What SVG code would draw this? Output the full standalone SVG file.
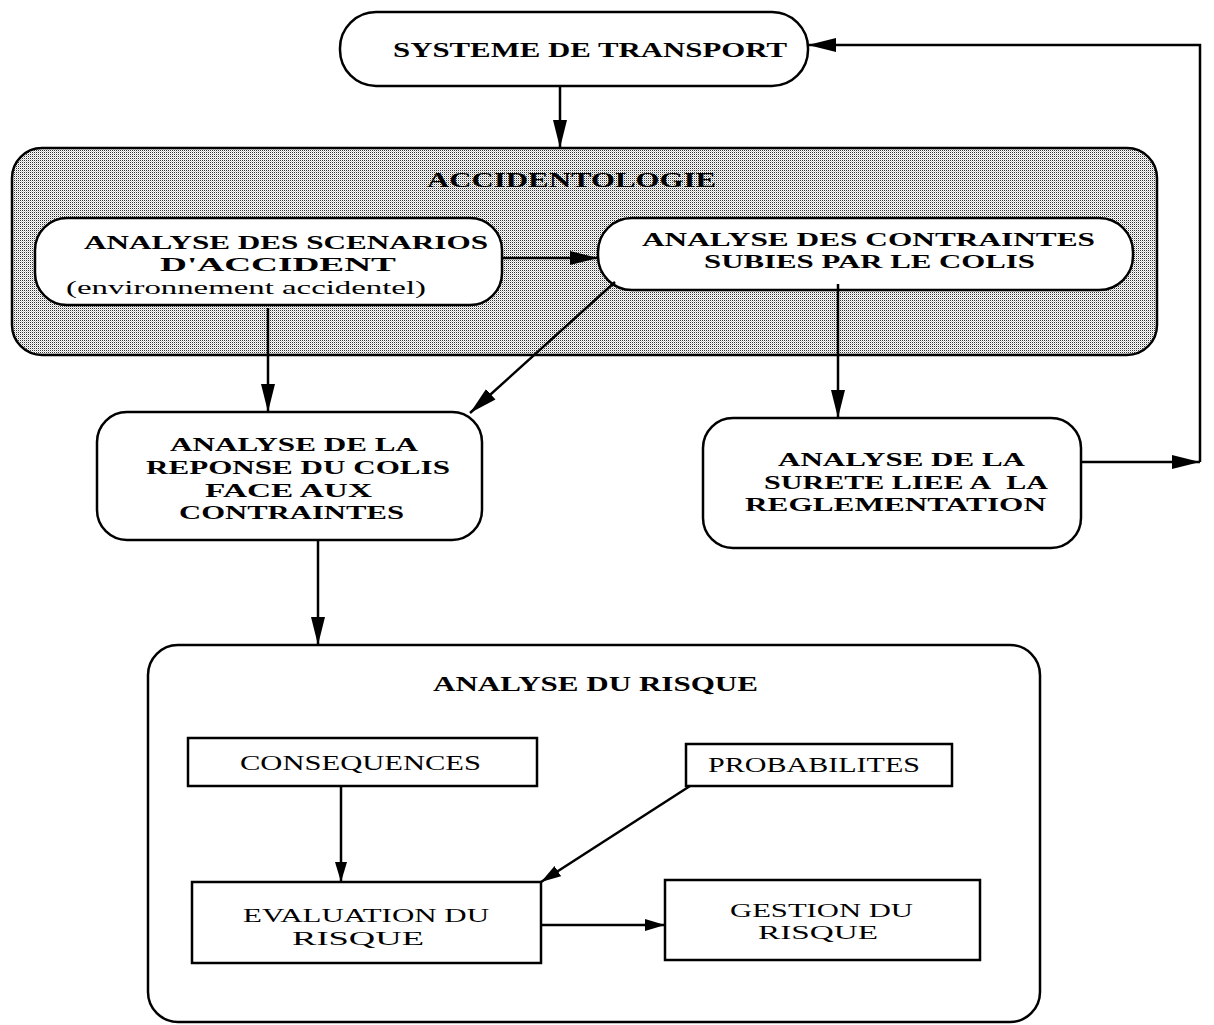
<svg xmlns="http://www.w3.org/2000/svg" width="1214" height="1025" viewBox="0 0 1214 1025">
<defs>
<pattern id="stip" width="2" height="2" patternUnits="userSpaceOnUse">
<rect width="2" height="2" fill="#ffffff"/>
<rect x="0" y="0" width="1" height="1" fill="#333333"/>
<rect x="1" y="1" width="1" height="1" fill="#c8c8c8"/>
</pattern>
<marker id="ah" markerUnits="userSpaceOnUse" markerWidth="30" markerHeight="16" refX="28" refY="8" orient="auto">
<path d="M0,1 L28,8 L0,15 z" fill="#000"/>
</marker>
<marker id="ahs" markerUnits="userSpaceOnUse" markerWidth="22" markerHeight="14" refX="20" refY="7" orient="auto">
<path d="M0,1 L20,7 L0,13 z" fill="#000"/>
</marker>
</defs>
<style>
.node{fill:#fff;stroke:#000;stroke-width:2.5}
.grp{fill:url(#stip);stroke:#000;stroke-width:2.5}
.box{fill:#fff;stroke:#000;stroke-width:2.5}
.conn{fill:none;stroke:#000;stroke-width:2.5}
.tb{font-family:"Liberation Serif","Times New Roman",serif;font-weight:bold;font-size:22px;fill:#000;text-anchor:start}
.tn{font-family:"Liberation Serif","Times New Roman",serif;font-weight:normal;font-size:22px;fill:#000;text-anchor:start}
.ml{font-size:19px}
</style>

<g id="transport">
<rect class="node" x="340" y="12" width="468" height="74" rx="36" ry="36"/>
<text class="tb" x="393" y="57" textLength="394" lengthAdjust="spacingAndGlyphs">SYSTEME DE TRANSPORT</text>
</g>

<g id="accidentologie">
<rect class="grp" x="12" y="148" width="1145" height="207" rx="30" ry="30"/>
<text class="tb" x="427" y="187" textLength="289" lengthAdjust="spacingAndGlyphs">ACCIDENTOLOGIE</text>
</g>

<g id="scenarios">
<rect class="node" x="35" y="218" width="467" height="87" rx="32" ry="32"/>
<text class="tb ml" x="84" y="249" textLength="404" lengthAdjust="spacingAndGlyphs">ANALYSE DES SCENARIOS</text>
<text class="tb ml" x="160" y="271" textLength="236" lengthAdjust="spacingAndGlyphs">D'ACCIDENT</text>
<text class="tn ml" x="66" y="294" textLength="360" lengthAdjust="spacingAndGlyphs">(environnement accidentel)</text>
</g>

<g id="contraintes">
<rect class="node" x="598" y="218" width="535" height="72" rx="34" ry="34"/>
<text class="tb ml" x="642" y="246" textLength="453" lengthAdjust="spacingAndGlyphs">ANALYSE DES CONTRAINTES</text>
<text class="tb ml" x="704" y="268" textLength="331" lengthAdjust="spacingAndGlyphs">SUBIES PAR LE COLIS</text>
</g>

<g id="reponse">
<rect class="node" x="97" y="412" width="385" height="128" rx="30" ry="30"/>
<text class="tb ml" x="170" y="451" textLength="248" lengthAdjust="spacingAndGlyphs">ANALYSE DE LA</text>
<text class="tb ml" x="146" y="474" textLength="304" lengthAdjust="spacingAndGlyphs">REPONSE DU COLIS</text>
<text class="tb ml" x="205" y="497" textLength="167" lengthAdjust="spacingAndGlyphs">FACE AUX</text>
<text class="tb ml" x="179" y="519" textLength="225" lengthAdjust="spacingAndGlyphs">CONTRAINTES</text>
</g>

<g id="surete">
<rect class="node" x="703" y="418" width="378" height="130" rx="30" ry="30"/>
<text class="tb ml" x="778" y="466" textLength="247" lengthAdjust="spacingAndGlyphs">ANALYSE DE LA</text>
<text class="tb ml" x="764" y="489" textLength="284" lengthAdjust="spacingAndGlyphs">SURETE LIEE A&#160; LA</text>
<text class="tb ml" x="745" y="511" textLength="301" lengthAdjust="spacingAndGlyphs">REGLEMENTATION</text>
</g>

<g id="risque">
<rect class="node" x="148" y="645" width="892" height="377" rx="30" ry="30"/>
<text class="tb" x="433" y="691" textLength="325" lengthAdjust="spacingAndGlyphs">ANALYSE DU RISQUE</text>
</g>

<g id="consequences">
<rect class="box" x="188" y="738" width="349" height="48"/>
<text class="tn" x="240" y="770" textLength="241" lengthAdjust="spacingAndGlyphs">CONSEQUENCES</text>
</g>

<g id="probabilites">
<rect class="box" x="686" y="744" width="266" height="42"/>
<text class="tn" x="708" y="772" textLength="212" lengthAdjust="spacingAndGlyphs">PROBABILITES</text>
</g>

<g id="evaluation">
<rect class="box" x="192" y="882" width="349" height="81"/>
<text class="tn ml" x="243" y="922" textLength="246" lengthAdjust="spacingAndGlyphs">EVALUATION DU</text>
<text class="tn ml" x="292" y="945" textLength="132" lengthAdjust="spacingAndGlyphs">RISQUE</text>
</g>

<g id="gestion">
<rect class="box" x="665" y="880" width="315" height="80"/>
<text class="tn ml" x="730" y="917" textLength="183" lengthAdjust="spacingAndGlyphs">GESTION DU</text>
<text class="tn ml" x="758" y="939" textLength="120" lengthAdjust="spacingAndGlyphs">RISQUE</text>
</g>

<g id="connectors">
<line class="conn" x1="560" y1="86" x2="560" y2="148" marker-end="url(#ah)"/>
<line class="conn" x1="502" y1="258" x2="598" y2="258" marker-end="url(#ah)"/>
<line class="conn" x1="268" y1="308" x2="268" y2="412" marker-end="url(#ah)"/>
<line class="conn" x1="615" y1="282" x2="470" y2="413" marker-end="url(#ah)"/>
<line class="conn" x1="838" y1="284" x2="838" y2="418" marker-end="url(#ah)"/>
<line class="conn" x1="1081" y1="462" x2="1200" y2="462" marker-end="url(#ah)"/>
<polyline class="conn" points="1200,462 1200,45 808,45" marker-end="url(#ah)"/>
<line class="conn" x1="318" y1="540" x2="318" y2="645" marker-end="url(#ah)"/>
<line class="conn" x1="341" y1="786" x2="341" y2="882" marker-end="url(#ahs)"/>
<line class="conn" x1="690" y1="786" x2="541" y2="882" marker-end="url(#ahs)"/>
<line class="conn" x1="541" y1="925" x2="665" y2="925" marker-end="url(#ahs)"/>
</g>
</svg>
